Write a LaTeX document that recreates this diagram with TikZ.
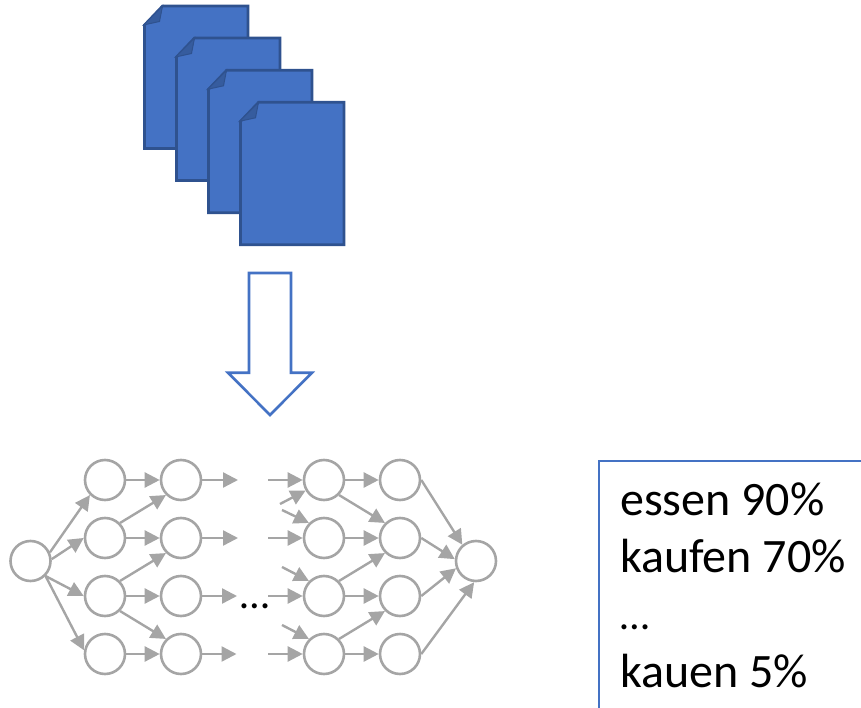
\documentclass[tikz,border=0pt]{standalone}
\usepackage{fontspec}
\setmainfont{Carlito}
\usetikzlibrary{arrows.meta}
\definecolor{docfill}{HTML}{4472C4}
\definecolor{docline}{HTML}{2F528F}
\definecolor{docfold}{HTML}{365C9E}
\definecolor{netgray}{HTML}{A5A5A5}
\newcommand{\smalldots}{{\fontsize{42}{57.3}\selectfont …}}
\tikzset{
  neuron/.style={circle,draw=netgray,line width=2.6pt,fill=white,minimum size=40pt,inner sep=0pt},
  link/.style={draw=netgray,line width=2.4pt,-{Triangle[length=15pt,width=15pt]}},
  docbody/.style={fill=docfill,draw=docline,line width=2.6pt,line join=miter},
  docflap/.style={fill=docfold,draw=docline,line width=1pt,line join=miter},
  bigtext/.style={font=\fontsize{48}{57.3}\selectfont,text=black,inner sep=0pt},
  bluepen/.style={draw=docfill,line width=2.6pt}
}
\newcommand{\docsheet}[2]{%
  \path[docbody] (#1+18,#2) -- (#1+103.5,#2) -- (#1+103.5,#2+142.5) -- (#1,#2+142.5) -- (#1,#2+19) -- cycle;
  \path[docflap] (#1+18,#2) -- (#1-1,#2+19) -- (#1+15,#2+15.5) -- cycle;
}
\begin{document}
\begin{tikzpicture}[x=1pt,y=-1pt]
\useasboundingbox (0,0) rectangle (861,708);
% documents
\docsheet{144.5}{6}
\docsheet{176.5}{38}
\docsheet{208.5}{70.3}
\docsheet{240.5}{102.3}
% big arrow
\path[bluepen,fill=white,line join=miter] (249,273) -- (291,273) -- (291,372.7) -- (312,372.7) -- (270,415) -- (228,372.7) -- (249,372.7) -- cycle;
% network nodes
\node[neuron] (L) at (30.5,561) {};
\foreach \n/\y in {1/480,2/538,3/596,4/654}{
  \node[neuron] (a\n) at (105,\y) {};
  \node[neuron] (b\n) at (181,\y) {};
  \node[neuron] (c\n) at (324,\y) {};
  \node[neuron] (d\n) at (400,\y) {};
}
\node[neuron] (R) at (476,561) {};
% free ends
\coordinate (o1) at (238,480);
\coordinate (o2) at (238,538);
\coordinate (o3) at (237,596);
\coordinate (o4) at (236.5,654);
\coordinate (i1) at (268,480);
\coordinate (i2) at (268,538);
\coordinate (i3) at (268,596);
\coordinate (i4) at (268,654);
\coordinate (x1) at (280,504);
\coordinate (x2) at (282,510);
\coordinate (x3) at (282,567);
\coordinate (x4) at (282,625);
% edges
\draw[link] (L.24) -- (a1.225);
\draw[link] (L.5) -- (a2.west);
\draw[link] (L.-45) -- (a3.west);
\draw[link] (L.-45) -- (a4.170);
\foreach \n in {1,2,3,4}{
  \draw[link] (a\n) -- (b\n);
  \draw[link] (b\n) -- (o\n);
  \draw[link] (i\n) -- (c\n);
  \draw[link] (c\n) -- (d\n);
}
\draw[link] (a2.45) -- (b1.225);
\draw[link] (a3.45) -- (b2.225);
\draw[link] (a3.-45) -- (b4.135);
\draw[link] (x1) -- (c1.210);
\draw[link] (x2) -- (c2.135);
\draw[link] (x3) -- (c3.135);
\draw[link] (x4) -- (c4.135);
\draw[link] (c1.-45) -- (d2.135);
\draw[link] (c3.45) -- (d2.225);
\draw[link] (c4.45) -- (d3.225);
\draw[link] (d1.east) -- (R.130);
\draw[link] (d2.east) -- (R.175);
\draw[link] (d3.east) -- (R.200);
\draw[link] (d4.east) -- (R.-95);
% ellipsis
\node[bigtext,anchor=base] (dots) at (255,608) {\smalldots};
% result box
\coordinate (bx1) at (861,461);
\coordinate (bx2) at (599,461);
\coordinate (bx3) at (599,708);
\path[bluepen] (bx1) -- (bx2) -- (bx3);
\node[bigtext,anchor=base west,align=left] (res) at (620,687) {essen 90\%\\kaufen 70\%\\\smalldots\\kauen 5\%};
\end{tikzpicture}
\end{document}
